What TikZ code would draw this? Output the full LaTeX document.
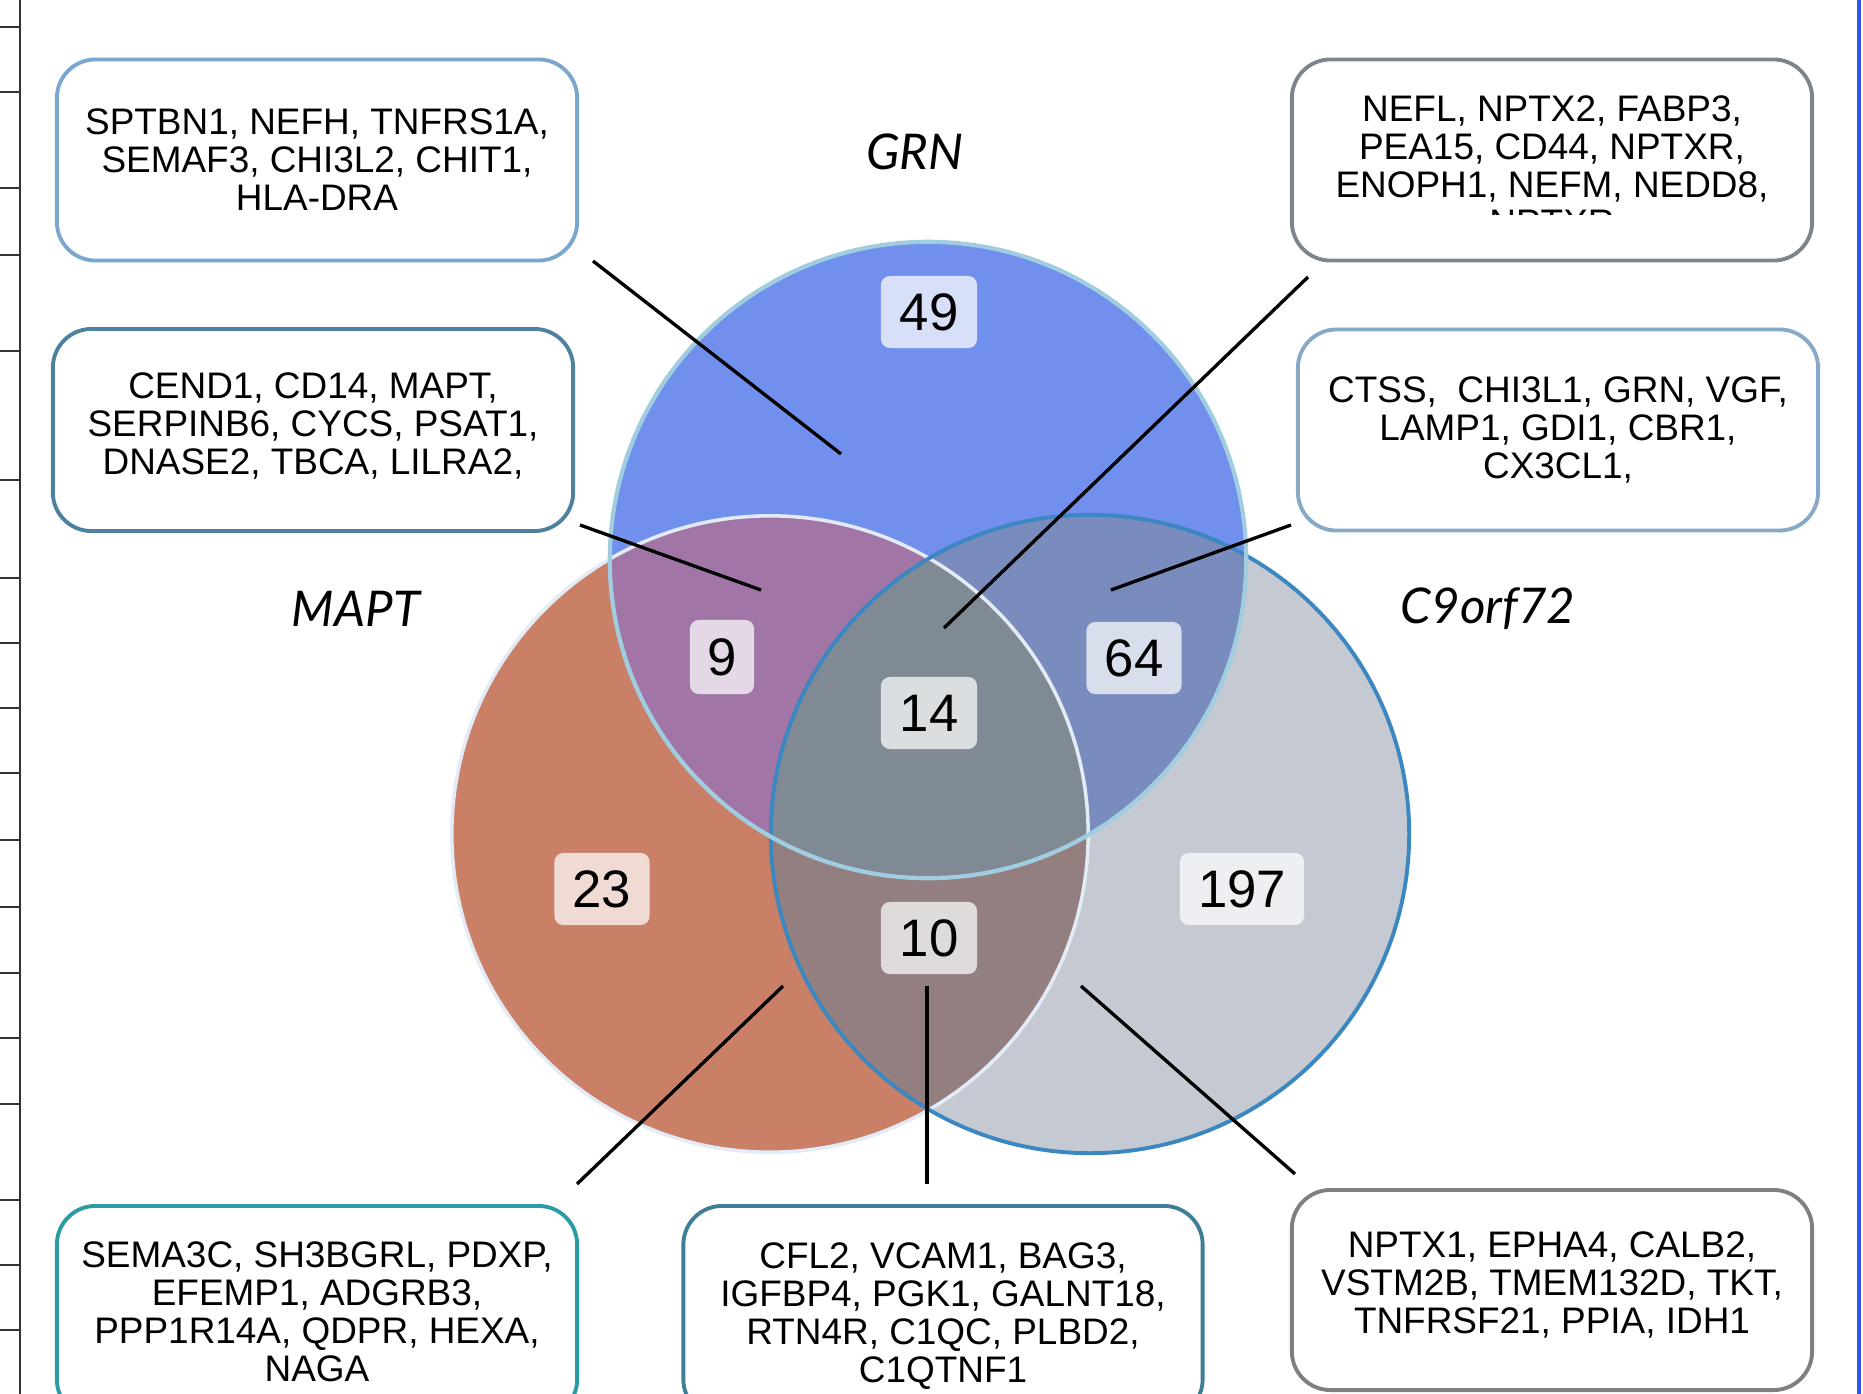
\documentclass[tikz,border=0pt]{standalone}
\usepackage{fontspec}
\setmainfont{Liberation Sans}
\newfontfamily\labelfont{Lato}
\definecolor{grnfill}{HTML}{718FEC}
\definecolor{maptfill}{HTML}{C98067}
\definecolor{cnfill}{HTML}{C4C9D2}
\definecolor{mgfill}{HTML}{A176A6}
\definecolor{gcfill}{HTML}{7A8BBE}
\definecolor{mcfill}{HTML}{937F80}
\definecolor{allfill}{HTML}{7F8A94}
\definecolor{grnline}{HTML}{A0CDE0}
\definecolor{maptline}{HTML}{E3ECF6}
\definecolor{cnline}{HTML}{3A87C2}
\definecolor{bxa}{HTML}{7BA7CF}
\definecolor{bxb}{HTML}{4E809F}
\definecolor{bxc}{HTML}{7E848E}
\definecolor{bxd}{HTML}{87A9C6}
\definecolor{bxe}{HTML}{2A9BA3}
\definecolor{bxf}{HTML}{3E7E97}
\definecolor{bxg}{HTML}{7F7F7F}
\definecolor{edgeblue}{HTML}{2B55F5}
\tikzset{
  genebox/.style={draw, line width=1.1pt, rounded corners=11pt, fill=white,
    minimum width=5.2cm, minimum height=2.01cm, align=center, inner sep=0pt,
    font=\fontsize{10.5}{10.8}\selectfont},
  genetext/.style={align=center, inner sep=0pt, font=\fontsize{10.5}{10.8}\selectfont},
  numbox/.style={rounded corners=2.5pt, fill=white, fill opacity=0.72, text opacity=1,
    minimum width=0.96cm, minimum height=0.72cm, inner sep=0pt,
    font=\fontsize{15}{16}\selectfont},
  setlabel/.style={font=\labelfont\itshape\fontsize{14}{16}\selectfont, inner sep=0pt},
  leader/.style={line width=0.95pt, black},
}
\begin{document}
\begin{tikzpicture}[x=0.01cm,y=-0.01cm]
\useasboundingbox (0,0) rectangle (1863,1394);
\clip (0,0) rectangle (1863,1394);
\fill[white] (0,0) rectangle (1863,1394);

% ruler on the left
\draw[line width=0.6pt, black!80] (20,0) -- (20,1394);
\foreach \ty in {27,92,188,255,351,480,578,643,708,773,840,907,973,1038,1104,1200,1265,1330}
  \draw[line width=0.4pt, black!80] (0,\ty) -- (20,\ty);
% blue edge on the right
\draw[line width=1.2pt, edgeblue] (1859,0) -- (1859,1394);

% circles
\coordinate (cG) at (928,560);
\coordinate (cM) at (770,834);
\coordinate (cC) at (1090,834);
\fill[maptfill] (cM) circle [radius=3.18cm];
\fill[cnfill] (cC) circle [radius=3.19cm];
\fill[grnfill] (cG) circle [radius=3.18cm];
\begin{scope}
  \clip (cM) circle [radius=3.18cm];
  \fill[mgfill] (cG) circle [radius=3.18cm];
  \fill[mcfill] (cC) circle [radius=3.19cm];
\end{scope}
\begin{scope}
  \clip (cG) circle [radius=3.18cm];
  \fill[gcfill] (cC) circle [radius=3.19cm];
\end{scope}
\begin{scope}
  \clip (cM) circle [radius=3.18cm];
  \clip (cG) circle [radius=3.18cm];
  \fill[allfill] (cC) circle [radius=3.19cm];
\end{scope}
\draw[maptline, line width=1pt] (cM) circle [radius=3.18cm];
\draw[cnline, line width=1.1pt] (cC) circle [radius=3.19cm];
\draw[grnline, line width=1.2pt] (cG) circle [radius=3.18cm];

% set labels
\node[setlabel] (lG) at (915,152) {GRN};
\node[setlabel] (lM) at (356,609) {MAPT};
\node[setlabel] (lC) at (1488,609) {C9orf72};

% counts
\node[numbox] (n49) at (929,312) {49};
\node[numbox] (n14) at (929,713) {14};
\node[numbox, minimum width=0.64cm, minimum height=0.74cm] (n9) at (722,657) {9};
\node[numbox, minimum width=0.95cm] (n64) at (1134,658) {64};
\node[numbox, minimum width=0.95cm] (n23) at (602,889) {23};
\node[numbox, minimum width=1.24cm] (n197) at (1242,889) {197};
\node[numbox] (n10) at (929,938) {10};

% gene boxes
\node[genebox, draw=bxa] (b1) at (317,160) {SPTBN1, NEFH, TNFRS1A,\\SEMAF3, CHI3L2, CHIT1,\\HLA-DRA};
\node[genebox, draw=bxb, minimum height=2.02cm, text height=0pt] (b2) at (313,430) {};
\node[genetext] (b2t) at (313,426) {CEND1, CD14, MAPT,\\SERPINB6, CYCS, PSAT1,\\DNASE2, TBCA, LILRA2,};
\node[genebox, draw=bxc] (b3) at (1552,160) {};
\node[genetext] (b3t) at (1552,166) {NEFL, NPTX2, FABP3,\\PEA15, CD44, NPTXR,\\ENOPH1, NEFM, NEDD8,\\NPTXR};
\fill[white] (1330,215) rectangle (1780,250);
\node[genebox, draw=bxd] (b4) at (1558,430) {CTSS,\ \ CHI3L1, GRN, VGF,\\LAMP1, GDI1, CBR1,\\CX3CL1,};
\node[genebox, draw=bxe, minimum height=2.12cm] (b5) at (317,1312) {SEMA3C, SH3BGRL, PDXP,\\EFEMP1, ADGRB3,\\PPP1R14A, QDPR, HEXA,\\NAGA};
\node[genebox, draw=bxf, minimum width=5.19cm, minimum height=2.12cm] (b6) at (943,1312) {};
\node[genetext] (b6t) at (943,1316) {CFL2, VCAM1, BAG3,\\IGFBP4, PGK1, GALNT18,\\RTN4R, C1QC, PLBD2,\\C1QTNF1};
\node[genebox, draw=bxg, minimum height=2.0cm] (b7) at (1552,1290) {};
\node[genetext] (b7t) at (1552,1285) {NPTX1, EPHA4, CALB2,\\VSTM2B, TMEM132D, TKT,\\TNFRSF21, PPIA, IDH1};

% leader lines
\coordinate (p1a) at (593,261);  \coordinate (p1b) at (841,454);
\coordinate (p2a) at (580,525);  \coordinate (p2b) at (761,590);
\coordinate (p3a) at (1308,277); \coordinate (p3b) at (944,628);
\coordinate (p4a) at (1291,525); \coordinate (p4b) at (1111,590);
\coordinate (p5a) at (577,1184); \coordinate (p5b) at (783,986);
\coordinate (p6a) at (927,1184); \coordinate (p6b) at (927,986);
\coordinate (p7a) at (1295,1174);\coordinate (p7b) at (1081,986);
\draw[leader] (p1a) -- (p1b);
\draw[leader] (p2a) -- (p2b);
\draw[leader] (p3a) -- (p3b);
\draw[leader] (p4a) -- (p4b);
\draw[leader] (p5a) -- (p5b);
\draw[leader] (p6a) -- (p6b);
\draw[leader] (p7a) -- (p7b);
\end{tikzpicture}
\end{document}
